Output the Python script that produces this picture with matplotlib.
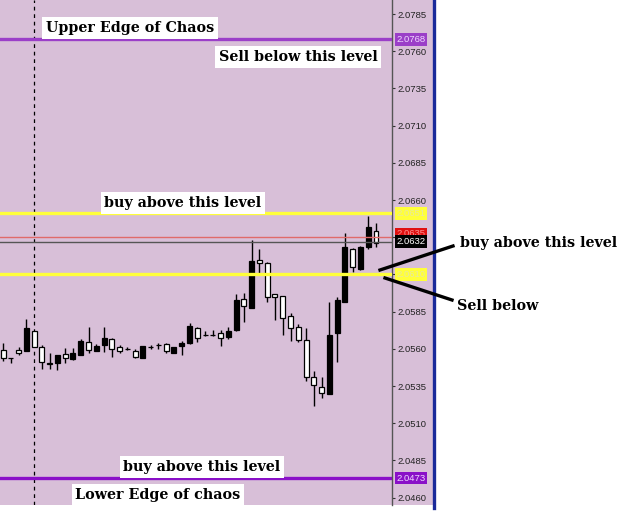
import matplotlib
matplotlib.use("Agg")
import matplotlib.pyplot as plt
import matplotlib.transforms as mtransforms
from matplotlib.lines import Line2D

# candle data (black = rising bar, white = falling bar)
opens = [2.05592, 2.05538, 2.05592, 2.05585, 2.05720, 2.05612, 2.05505, 2.05505,
         2.05565, 2.05532, 2.05559, 2.05646, 2.05585, 2.05626, 2.05666, 2.05612,
         2.05599, 2.05585, 2.05538, 2.05612, 2.05626, 2.05632, 2.05572, 2.05619,
         2.05639, 2.05740, 2.05693, 2.05693, 2.05706, 2.05680, 2.05727, 2.05935,
         2.05874, 2.06197, 2.06177, 2.05968, 2.05955, 2.05821, 2.05747, 2.05659,
         2.05411, 2.05344, 2.05296, 2.05706, 2.05915, 2.06271, 2.06136, 2.06284,
         2.06392]
highs = [2.05639, 2.05538, 2.05612, 2.05800, 2.05720, 2.05626, 2.05572, 2.05559,
         2.05606, 2.05606, 2.05666, 2.05747, 2.05632, 2.05747, 2.05673, 2.05626,
         2.05612, 2.05599, 2.05619, 2.05626, 2.05639, 2.05639, 2.05612, 2.05653,
         2.05774, 2.05747, 2.05720, 2.05727, 2.05727, 2.05747, 2.05968, 2.05975,
         2.06331, 2.06271, 2.06183, 2.05968, 2.05955, 2.05841, 2.05767, 2.05740,
         2.05451, 2.05411, 2.05915, 2.05948, 2.06378, 2.06278, 2.06291, 2.06493,
         2.06446]
lows = [2.05518, 2.05505, 2.05559, 2.05585, 2.05612, 2.05464, 2.05464, 2.05458,
        2.05505, 2.05525, 2.05559, 2.05572, 2.05585, 2.05579, 2.05545, 2.05572,
        2.05592, 2.05538, 2.05538, 2.05599, 2.05599, 2.05572, 2.05572, 2.05559,
        2.05632, 2.05646, 2.05686, 2.05686, 2.05619, 2.05666, 2.05720, 2.05780,
        2.05874, 2.06110, 2.05915, 2.05794, 2.05693, 2.05653, 2.05646, 2.05384,
        2.05216, 2.05270, 2.05296, 2.05511, 2.05915, 2.06116, 2.06130, 2.06271,
        2.06284]
closes = [2.05538, 2.05538, 2.05572, 2.05740, 2.05612, 2.05511, 2.05498, 2.05559,
          2.05538, 2.05572, 2.05653, 2.05592, 2.05619, 2.05673, 2.05599, 2.05585,
          2.05599, 2.05545, 2.05619, 2.05612, 2.05626, 2.05585, 2.05612, 2.05639,
          2.05753, 2.05673, 2.05693, 2.05693, 2.05673, 2.05720, 2.05928, 2.05888,
          2.06190, 2.06177, 2.05948, 2.05948, 2.05807, 2.05740, 2.05659, 2.05411,
          2.05357, 2.05303, 2.05693, 2.05928, 2.06284, 2.06150, 2.06284, 2.06419,
          2.06311]

# price scale
tick_values = [2.0785, 2.0760, 2.0735, 2.0710, 2.0685, 2.0660, 2.0635, 2.0610,
               2.0585, 2.0560, 2.0535, 2.0510, 2.0485, 2.0460]

# horizontal levels and their price tags on the scale
level_prices = [2.0768, 2.0651, 2.0635, 2.0632, 2.0610, 2.0473]
level_labels = ["2.0768", "2.0651", "2.0635", "2.0632", "2.0610", "2.0473"]
level_colors = ["#9b3fc8", "#ffff3a", "#e06a6a", "#555555", "#ffff3a", "#8a10c8"]
level_widths = [2.4, 2.4, 1.0, 1.0, 2.4, 2.4]
label_bg = ["#9b3fc8", "#ffff3a", "#e01010", "#000000", "#ffff3a", "#8a10c8"]
label_fg = ["#f0d8ff", "#e8e8a0", "#ff9090", "white", "#e8e8a0", "#f0d8ff"]
label_shift = [0, 0, 0.00022, 0, 0, 0]

LILAC = "#d8bfd8"
W, H = 625, 516


def fx(px):
    return px / W


def fy(py):
    return 1 - py / H


fig = plt.figure(figsize=(W / 100, H / 100), dpi=100)
fig.patch.set_facecolor("white")

bottom = fy(505)
ax_h = 505 / H

strip = fig.add_axes([fx(392), bottom, fx(433) - fx(392), ax_h], zorder=0)
strip.set_facecolor(LILAC)
strip.set_xticks([])
strip.set_yticks([])
for s in strip.spines.values():
    s.set_visible(False)

ax = fig.add_axes([0, bottom, fx(392), ax_h], zorder=1)
ax.set_facecolor(LILAC)
ax.set_xlim(-0.39, 50.06)
ax.set_ylim(2.045505, 2.079441)

# candles
x = list(range(len(opens)))
for i in x:
    o, h, l, c = opens[i], highs[i], lows[i], closes[i]
    ax.vlines(i, l, h, color="black", lw=1.0, zorder=2)
    lo = min(o, c)
    hi = max(o, c)
    face = "black" if c > o else "white"
    ax.bar(i, hi - lo, bottom=lo, width=0.64, color=face, edgecolor="black",
           lw=0.9, zorder=3)

# dotted separator
ax.axvline(4, color="black", lw=0.9, ls=(0, (3, 3)), zorder=1)

# levels
trans = mtransforms.blended_transform_factory(ax.transAxes, ax.transData)
for p, col, lw in zip(level_prices, level_colors, level_widths):
    ax.axhline(p, color=col, lw=lw, zorder=4)

for p, lab, bg, fg, dy in zip(level_prices, level_labels, label_bg, label_fg,
                              label_shift):
    ax.text(1.011, p + dy, lab, transform=trans, fontsize=6.8,
            family="Liberation Sans", color=fg, va="center", ha="left",
            clip_on=False, zorder=10,
            bbox=dict(boxstyle="square,pad=0.18", fc=bg, ec="none"))

ax.yaxis.tick_right()
ax.set_yticks(tick_values)
ax.set_yticklabels([f"{v:.4f}" for v in tick_values], fontsize=6.8,
                   family="Liberation Sans", color="#222222")
ax.tick_params(axis="y", length=2.5, width=0.8, color="#333333", pad=1.5)
ax.set_xticks([])
for name, s in ax.spines.items():
    s.set_visible(name == "right")
ax.spines["right"].set_color("#555555")
ax.spines["right"].set_linewidth(1.0)

# blue border of the chart window
fig.add_artist(Line2D([fx(434), fx(434)], [fy(0), fy(508)], color="#1a2a9a",
                      lw=2.4, transform=fig.transFigure))

# hand-drawn annotations
font = dict(family="DejaVu Serif", weight="bold", fontsize=10.3, color="black")
boxed = dict(boxstyle="square,pad=0.25", fc="white", ec="none")
fig.text(fx(130), fy(28), "Upper Edge of Chaos", ha="center", va="center",
         bbox=boxed, **font)
fig.text(fx(298), fy(57), "Sell below this level", ha="center", va="center",
         bbox=boxed, **font)
fig.text(fx(183), fy(203), "buy above this level", ha="center", va="center",
         bbox=boxed, **font)
fig.text(fx(202), fy(467), "buy above this level", ha="center", va="center",
         bbox=boxed, **font)
fig.text(fx(158), fy(495), "Lower Edge of chaos", ha="center", va="center",
         bbox=boxed, **font)
fig.text(fx(460), fy(243), "buy above this level", ha="left", va="center", **font)
fig.text(fx(457), fy(306), "Sell below", ha="left", va="center", **font)

fig.add_artist(Line2D([fx(380), fx(453)], [fy(270), fy(246)], color="black",
                      lw=2.4, transform=fig.transFigure))
fig.add_artist(Line2D([fx(385), fx(452)], [fy(278), fy(300)], color="black",
                      lw=2.4, transform=fig.transFigure))

fig.savefig("out.png", dpi=100, facecolor="white")
